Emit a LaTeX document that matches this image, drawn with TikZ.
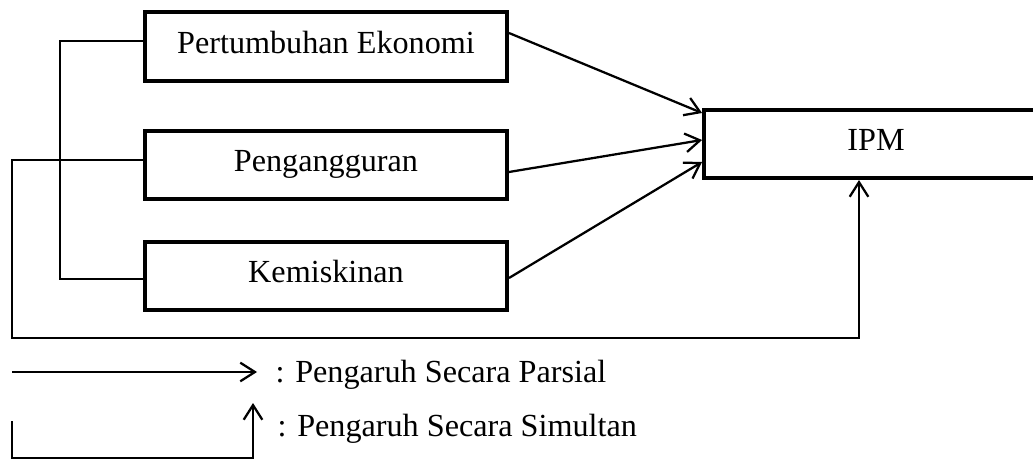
\documentclass[tikz,border=0pt]{standalone}
\usepackage{fontspec}
\setmainfont{Liberation Serif}
\usetikzlibrary{calc,arrows.meta}

\begin{document}
\begin{tikzpicture}[x=0.376pt, y=-0.376pt, font=\fontsize{12.1}{14}\selectfont,
  box/.style = {draw, line width=1.6pt, inner sep=0pt, minimum width=136pt, minimum height=25.8pt, text height=8pt, text depth=3pt},
  legend/.style = {anchor=west, inner xsep=6.8pt, inner ysep=0pt, text height=8pt, text depth=3pt},
  line/.style = {line width=0.85pt},
  >={Straight Barb[length=5.5pt, width=7pt]}]
\useasboundingbox (0,0) rectangle (1033,459);
% variabel bebas dan terikat
\node[box] (pe) at (326,46.5) {Pertumbuhan Ekonomi};
\node[box] (pg) at (326,165) {Pengangguran};
\node[box] (km) at (326,276) {Kemiskinan};
\node[box, minimum width=129.2pt, minimum height=25.5pt] (ipm) at (876,144) {IPM};
% pengaruh parsial
\draw[line,->] ($(pe.east)+(0,-13.5)$) -- ($(ipm.west)+(0,-31)$);
\draw[line,->] ($(pg.east)+(0,7)$) -- ($(ipm.west)+(0,-4)$);
\draw[line,->] ($(km.east)+(0,2)$) -- ($(ipm.west)+(0,18)$);
% pengaruh simultan
\coordinate (br) at (60,279);
\draw[line] ($(pe.west)+(0,-5.5)$) -| (br) -- (br -| km.west);
\coordinate (c1) at (12,338);
\coordinate (c2) at (859,338);
\draw[line,->] ($(pg.west)+(0,-5)$) -| (c1) -- (c2) -- (ipm.south -| c2);
% keterangan
\coordinate (p0) at (12,372);
\node[legend] (parsial) at (257,375.4) {: Pengaruh Secara Parsial};
\draw[line,->] (p0) -- (p0 -| parsial.west);
\coordinate (s0) at (12,421);
\coordinate (s1) at (253,458);
\coordinate (s2) at (253,403);
\node[legend] (simultan) at (259,429.4) {: Pengaruh Secara Simultan};
\draw[line,->] (s0) |- (s1) -- (s2);
\end{tikzpicture}
\end{document}
